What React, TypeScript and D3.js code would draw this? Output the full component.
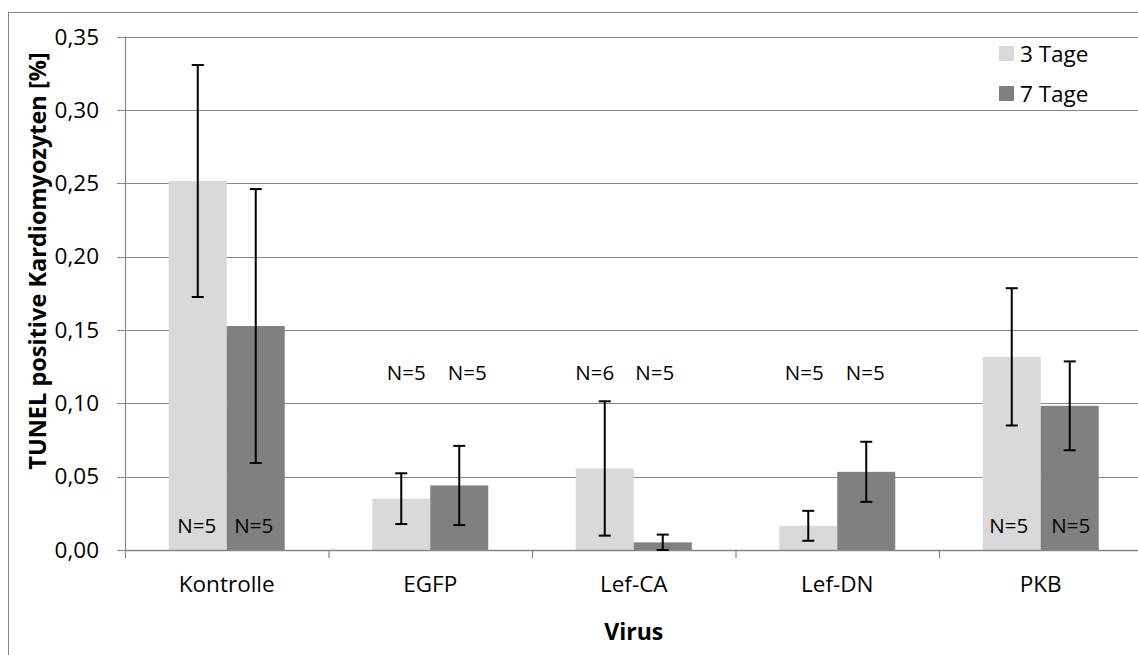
import React from 'react';
import * as d3 from 'd3';

// ---------- data ----------
const categories = ['Kontrolle', 'EGFP', 'Lef-CA', 'Lef-DN', 'PKB'];
const seriesNames = ['3 Tage', '7 Tage'];
const values3 = [0.2516, 0.035, 0.0556, 0.0165, 0.1317];
const errors3 = [0.0791, 0.0173, 0.0458, 0.0102, 0.0468];
const values7 = [0.1527, 0.044, 0.0052, 0.0533, 0.0983];
const errors7 = [0.0934, 0.027, 0.0053, 0.0205, 0.0303];
const n3 = [5, 5, 6, 5, 5];
const n7 = [5, 5, 5, 5, 5];
const yTicks = [0, 0.05, 0.1, 0.15, 0.2, 0.25, 0.3, 0.35];
const yTitle = 'TUNEL positive Kardiomyozyten [%]';
const xTitle = 'Virus';

// ---------- layout / style ----------
const W = 1138;
const H = 655;
const plot = { left: 125, right: 1142.5, top: 36.7, bottom: 550 };
const colors = ['#d9d9d9', '#808080'];
const gridColor = '#878787';
const FONT = '"Open Sans", sans-serif';
// N-label text boxes: row baseline and small horizontal shifts (layout only)
const nLabelBaseline = [533, 380, 380, 380, 533];
const nLabelDx3 = [-1, 5, -10, -4, -3];
const nLabelDx7 = [-2, 8, -8, -1, 1];

export default function App() {
  const x = d3
    .scaleBand<string>()
    .domain(categories)
    .range([plot.left, plot.right])
    .paddingInner(0.43)
    .paddingOuter(0.215);
  const xs = d3.scaleBand<string>().domain(seriesNames).range([0, x.bandwidth()]);
  const y = d3.scaleLinear().domain([0, 0.35]).range([plot.bottom, plot.top]);

  const series = [
    { name: seriesNames[0], values: values3, errors: errors3, n: n3, dx: nLabelDx3 },
    { name: seriesNames[1], values: values7, errors: errors7, n: n7, dx: nLabelDx7 },
  ];
  const fmt = (v: number) => d3.format('.2f')(v).replace('.', ',');
  const step = x.step();
  const boundaries = d3.range(categories.length + 1).map((i) => plot.left + i * step);

  return (
    <svg
      width={W}
      height={H}
      style={{ position: 'absolute', left: 0, top: 0, display: 'block', background: '#fff' }}
      fontFamily={FONT}
    >
      <rect x={0} y={0} width={W} height={H} fill="#fff" />
      {/* chart area border */}
      <rect x={8.5} y={12.5} width={W + 20} height={H + 20} fill="none" stroke={gridColor} strokeWidth={1} />

      {/* gridlines */}
      {yTicks.map((t) => (
        <line
          key={'g' + t}
          x1={plot.left - 8}
          x2={W + 10}
          y1={Math.round(y(t)) + 0.5}
          y2={Math.round(y(t)) + 0.5}
          stroke={gridColor}
          strokeWidth={1.2}
        />
      ))}

      {/* y axis */}
      <line x1={plot.left + 0.5} x2={plot.left + 0.5} y1={y(0.35)} y2={plot.bottom} stroke={gridColor} strokeWidth={1.2} />
      {yTicks.map((t) => (
        <text
          key={'yt' + t}
          x={99}
          y={y(t) + 7.8}
          textAnchor="end"
          fontSize={22.5}
          fill="#000"
        >
          {fmt(t)}
        </text>
      ))}

      {/* bars */}
      {categories.map((c, i) =>
        series.map((s, j) => {
          const bx = (x(c) as number) + (xs(s.name) as number);
          return (
            <rect
              key={'b' + i + j}
              x={bx}
              y={y(s.values[i])}
              width={xs.bandwidth()}
              height={plot.bottom - y(s.values[i])}
              fill={colors[j]}
            />
          );
        })
      )}

      {/* x axis */}
      <line x1={plot.left} x2={W + 10} y1={plot.bottom + 0.5} y2={plot.bottom + 0.5} stroke={gridColor} strokeWidth={1.5} />
      {boundaries.map((bx, i) => (
        <line key={'xt' + i} x1={bx + 0.5} x2={bx + 0.5} y1={plot.bottom} y2={plot.bottom + 8} stroke={gridColor} strokeWidth={1.2} />
      ))}

      {/* error bars */}
      {categories.map((c, i) =>
        series.map((s, j) => {
          const cx = (x(c) as number) + (xs(s.name) as number) + xs.bandwidth() / 2;
          const hi = y(s.values[i] + s.errors[i]);
          const lo = y(Math.max(0, s.values[i] - s.errors[i]));
          return (
            <g key={'e' + i + j} stroke="#000" strokeWidth={2}>
              <line x1={cx} x2={cx} y1={hi} y2={lo} />
              <line x1={cx - 6} x2={cx + 6} y1={hi} y2={hi} />
              <line x1={cx - 6} x2={cx + 6} y1={lo} y2={lo} />
            </g>
          );
        })
      )}

      {/* N labels */}
      {categories.map((c, i) =>
        series.map((s, j) => {
          const cx = (x(c) as number) + (xs(s.name) as number) + xs.bandwidth() / 2 + s.dx[i];
          return (
            <text key={'n' + i + j} x={cx} y={nLabelBaseline[i]} textAnchor="middle" fontSize={20.5} fill="#000">
              {'N=' + s.n[i]}
            </text>
          );
        })
      )}

      {/* category labels */}
      {categories.map((c) => (
        <text
          key={'c' + c}
          x={(x(c) as number) + x.bandwidth() / 2}
          y={592}
          textAnchor="middle"
          fontSize={22.5}
          fill="#000"
        >
          {c}
        </text>
      ))}

      {/* axis titles */}
      <text x={(plot.left + plot.right) / 2} y={640} textAnchor="middle" fontSize={23} fontWeight="bold" fill="#000">
        {xTitle}
      </text>
      <text
        transform={`translate(46,261) rotate(-90)`}
        textAnchor="middle"
        fontSize={23.5}
        fontWeight="bold"
        fill="#000"
      >
        {yTitle}
      </text>

      {/* legend */}
      {seriesNames.map((nm, j) => (
        <g key={'l' + j} transform={`translate(999,${46 + j * 40})`}>
          <rect x={0} y={0} width={15} height={15} fill={colors[j]} />
          <text x={21} y={15.8} fontSize={22.5} fill="#000">
            {nm}
          </text>
        </g>
      ))}
    </svg>
  );
}
